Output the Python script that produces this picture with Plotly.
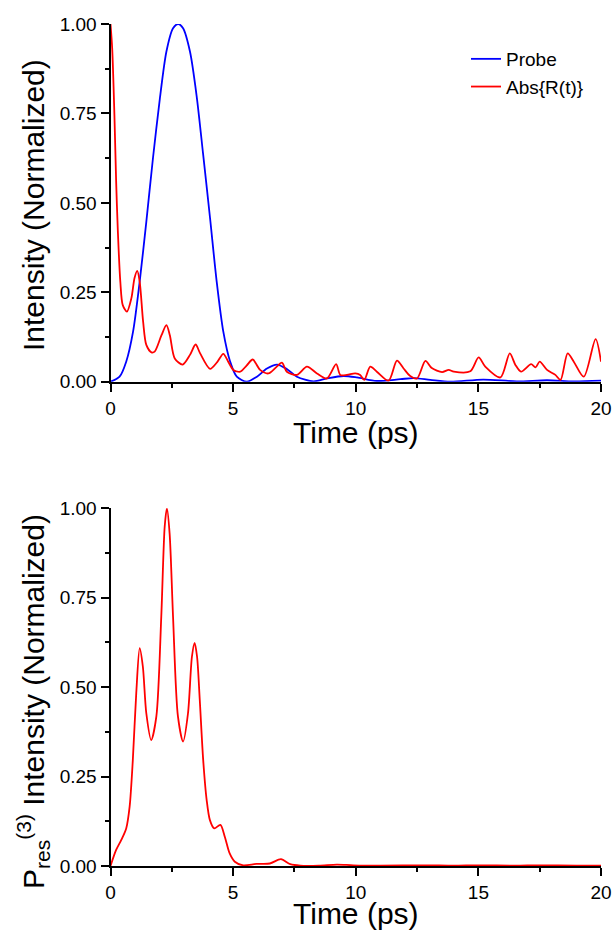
import plotly.graph_objects as go

# ---- data ----
t_probe = [0, 0.37, 0.64, 0.92, 1.19, 1.46, 1.73, 2.01, 2.28, 2.55, 2.76, 2.96, 3.24, 3.51, 3.78,
           4.06, 4.33, 4.6, 4.88, 5.15, 5.56, 5.97, 6.38, 6.79, 7.2, 7.6, 8.28, 8.82, 9.5, 10.05,
           10.86, 11.82, 12.36, 13.04, 13.86, 15.2, 16.56, 17.8, 18.89, 20]
v_probe = [0, 0.014, 0.056, 0.14, 0.28, 0.447, 0.624, 0.79, 0.923, 0.988, 1.0, 0.988, 0.923, 0.80, 0.634,
           0.457, 0.28, 0.14, 0.056, 0.014, 0.0, 0.014, 0.037, 0.048, 0.035, 0.014, 0.001, 0.009, 0.016, 0.012,
           0.002, 0.007, 0.010, 0.005, 0.0, 0.006, 0.001, 0.004, 0.001, 0.003]

t_abs = [0.00, 0.07, 0.16, 0.23, 0.30, 0.40, 0.50, 0.67, 0.85, 0.98, 1.09, 1.19, 1.33, 1.46, 1.67, 1.80,
         2.08, 2.28, 2.42, 2.62, 2.94, 3.24, 3.47, 3.65, 4.06, 4.35, 4.60, 4.80, 5.01, 5.29, 5.55, 5.80,
         6.10, 6.44, 6.75, 6.99, 7.19, 7.60, 8.01, 8.42, 8.82, 9.20, 9.37, 9.64, 9.98, 10.18, 10.35, 10.59,
         10.86, 11.34, 11.68, 11.95, 12.22, 12.50, 12.84, 13.10, 13.52, 13.79, 14.00, 14.67, 15.01, 15.28,
         15.90, 16.28, 16.51, 16.74, 17.15, 17.33, 17.50, 17.80, 18.14, 18.35, 18.64, 18.89, 19.30, 19.78, 20.00]
v_abs = [1.000, 0.930, 0.745, 0.560, 0.420, 0.280, 0.214, 0.196, 0.233, 0.290, 0.310, 0.280, 0.168, 0.103, 0.082, 0.084,
         0.130, 0.158, 0.130, 0.065, 0.048, 0.075, 0.104, 0.080, 0.036, 0.055, 0.078, 0.056, 0.033, 0.028, 0.045, 0.062,
         0.033, 0.023, 0.040, 0.053, 0.028, 0.019, 0.042, 0.023, 0.009, 0.049, 0.019, 0.019, 0.023, 0.019, 0.005, 0.042,
         0.028, 0.003, 0.059, 0.037, 0.016, 0.009, 0.058, 0.038, 0.027, 0.033, 0.028, 0.029, 0.068, 0.042,
         0.012, 0.079, 0.047, 0.028, 0.049, 0.040, 0.056, 0.033, 0.019, 0.005, 0.079, 0.056, 0.014, 0.119, 0.056]

t_pres = [0, 0.23, 0.44, 0.64, 0.78, 0.91, 1.05, 1.19, 1.32, 1.46, 1.66, 1.87, 2.07, 2.21, 2.30, 2.41, 2.55,
          2.75, 2.96, 3.16, 3.32, 3.43, 3.53, 3.64, 3.78, 3.92, 4.05, 4.23, 4.48, 4.66, 4.86, 5.07, 5.41,
          5.95, 6.50, 6.95, 7.33, 7.74, 8.50, 9.23, 9.90, 11.0, 12.8, 14.0, 15.0, 16.5, 17.5, 19.0, 20.0]
v_pres = [0, 0.045, 0.073, 0.105, 0.166, 0.296, 0.483, 0.609, 0.557, 0.427, 0.352, 0.418, 0.697, 0.949, 1.0, 0.93, 0.697,
          0.418, 0.348, 0.427, 0.585, 0.624, 0.585, 0.464, 0.296, 0.185, 0.129, 0.105, 0.115, 0.082, 0.035, 0.012, 0.002,
          0.006, 0.007, 0.019, 0.005, 0.001, 0.001, 0.004, 0.002, 0.001, 0.002, 0.001, 0.002, 0.001, 0.002, 0.001, 0.001]

x_ticks = [0, 5, 10, 15, 20]
y_ticks = [0.0, 0.25, 0.5, 0.75, 1.0]

W, H = 614, 930
FONT = "Liberation Sans, Arial, sans-serif"

fig = go.Figure()
fig.add_trace(go.Scatter(x=t_probe, y=v_probe, name="Probe", mode="lines",
                         line=dict(color="#0000FF", width=1.8, shape="spline", smoothing=0.8),
                         xaxis="x", yaxis="y"))
fig.add_trace(go.Scatter(x=t_abs, y=v_abs, name="Abs{R(t)}", mode="lines",
                         line=dict(color="#FF0000", width=1.8, shape="spline", smoothing=0.8),
                         xaxis="x", yaxis="y"))
fig.add_trace(go.Scatter(x=t_pres, y=v_pres, name="P3", mode="lines", showlegend=False,
                         line=dict(color="#FF0000", width=1.8, shape="spline", smoothing=0.8),
                         xaxis="x2", yaxis="y2"))

xdom = [110.5 / W, 601 / W]
ydom1 = [1 - 381.7 / H, 1 - 24 / H]
ydom2 = [1 - 866 / H, 1 - 508.3 / H]

def xax(anchor):
    return dict(domain=xdom, range=[0, 20], anchor=anchor, tickvals=x_ticks,
                showline=True, linecolor="black", linewidth=2, showgrid=False, zeroline=False,
                ticks="outside", ticklen=8, tickwidth=2, tickcolor="black",
                minor=dict(dtick=2.5, tick0=0, ticks="outside", ticklen=4, tickwidth=2, tickcolor="black"),
                tickfont=dict(family=FONT, size=19, color="black"), automargin=False)

def yax(dom, anchor):
    return dict(domain=dom, range=[0, 1.0], anchor=anchor, tickvals=y_ticks, tickformat=".2f",
                showline=True, linecolor="black", linewidth=2, showgrid=False, zeroline=False,
                ticks="outside", ticklen=8, tickwidth=2, tickcolor="black",
                minor=dict(dtick=0.125, tick0=0, ticks="outside", ticklen=4, tickwidth=2, tickcolor="black"),
                tickfont=dict(family=FONT, size=19, color="black"), automargin=False)

fig.update_layout(
    width=W, height=H, margin=dict(l=0, r=0, t=0, b=0),
    paper_bgcolor="white", plot_bgcolor="white",
    font=dict(family=FONT, color="black"),
    xaxis=xax("y"), yaxis=yax(ydom1, "x"),
    xaxis2=xax("y2"), yaxis2=yax(ydom2, "x2"),
    legend=dict(x=466 / W, y=1 - 40 / H, xanchor="left", yanchor="top",
                font=dict(family=FONT, size=19, color="black"), bgcolor="rgba(0,0,0,0)",
                tracegroupgap=0, itemwidth=30),
    annotations=[
        dict(text="Time (ps)", x=355.75 / W, y=1 - 432 / H, xref="paper", yref="paper",
             xanchor="center", yanchor="middle", showarrow=False,
             font=dict(family=FONT, size=30, color="black")),
        dict(text="Time (ps)", x=355.75 / W, y=1 - 913 / H, xref="paper", yref="paper",
             xanchor="center", yanchor="middle", showarrow=False,
             font=dict(family=FONT, size=30, color="black")),
        dict(text="Intensity (Normalized)", x=33 / W, y=1 - 205 / H, xref="paper", yref="paper",
             xanchor="center", yanchor="middle", showarrow=False, textangle=-90,
             font=dict(family=FONT, size=30, color="black")),
        dict(text="P<sub>res</sub><sup>(3)</sup> Intensity (Normalized)", x=33 / W, y=1 - 702 / H,
             xref="paper", yref="paper", xanchor="center", yanchor="middle", showarrow=False,
             textangle=-90, font=dict(family=FONT, size=30, color="black")),
    ],
)

fig.write_html("out.html", config={"displayModeBar": False},
               post_script="document.body.style.margin='0';document.body.style.overflow='hidden';")
